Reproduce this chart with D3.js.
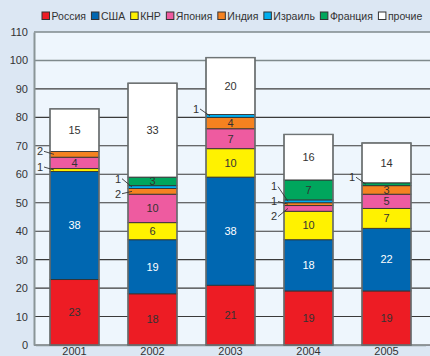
<!DOCTYPE html>
<html><head><meta charset="utf-8">
<script src="https://cdn.jsdelivr.net/npm/d3@7"></script>
<style>
html,body{margin:0;padding:0;background:#dce7f3;}
svg{display:block;font-family:"Liberation Sans",Arial,sans-serif;}
</style></head>
<body><svg id="c" width="430" height="356"></svg>
<script>
const years = ["2001","2002","2003","2004","2005"];
const seriesNames = ["Россия","США","КНР","Япония","Индия","Израиль","Франция","прочие"];
const seriesColors = ["#ed1c24","#0067b1","#fff200","#ee5ba0","#f58220","#00aeef","#00a65d","#ffffff"];
const russia = [23,18,21,19,19];
const usa    = [38,19,38,18,22];
const china  = [1,6,10,10,7];
const japan  = [4,10,7,2,5];
const india  = [2,2,4,1,3];
const israel = [0,1,1,1,0];
const france = [0,3,0,7,1];
const others = [15,33,20,16,14];
const yTicks = [0,10,20,30,40,50,60,70,80,90,100,110];

const seriesValues = [russia,usa,china,japan,india,israel,france,others];
const table = years.map((y,i)=>{const o={year:y}; seriesNames.forEach((s,k)=>o[s]=seriesValues[k][i]); return o;});

const svg = d3.select("#c");
const W=430,H=356;
const m={left:34,top:32,right:0,bottom:11};
const x = d3.scaleBand().domain(years).range([35.5,425.5]).paddingInner(0.372).paddingOuter(0.186);
const y = d3.scaleLinear().domain([0,110]).range([345,32]);

// plot area background
svg.append("rect").attr("x",m.left).attr("y",y(110)).attr("width",W-m.left).attr("height",y(0)-y(110)).attr("fill","#eef6fd");

// gridlines
svg.append("g").selectAll("line").data(yTicks).join("line")
  .attr("x1",m.left).attr("x2",W).attr("y1",d=>y(d)).attr("y2",d=>y(d))
  .attr("stroke",d=>d>=100?"#7f8a8c":"#3a3a3a").attr("stroke-width",d=>d>=100?1.6:1.1);

// y axis
const ya = svg.append("g").attr("transform",`translate(${m.left},0)`)
  .call(d3.axisLeft(y).tickValues(yTicks).tickSize(0).tickPadding(6));
ya.select(".domain").attr("stroke","#8a9597").attr("stroke-width",2);
ya.selectAll("text").attr("font-size",11).attr("fill","#333").attr("font-family","Liberation Sans, Arial, sans-serif");

// x axis labels
const xa = svg.append("g").attr("transform",`translate(0,${y(0)})`)
  .call(d3.axisBottom(x).tickSize(0).tickPadding(2));
xa.select(".domain").attr("stroke","#8a9597").attr("stroke-width",1.5);
xa.selectAll("text").attr("font-size",11).attr("fill","#333").attr("font-family","Liberation Sans, Arial, sans-serif");

const stack = d3.stack().keys(seriesNames)(table);

const bars = svg.append("g");
stack.forEach((layer,k)=>{
  bars.append("g").selectAll("rect").data(layer.filter(d=>d[1]>d[0])).join("rect")
    .attr("x",d=>x(d.data.year)).attr("width",x.bandwidth())
    .attr("y",d=>y(d[1])).attr("height",d=>y(d[0])-y(d[1]))
    .attr("fill",seriesColors[k]).attr("stroke","#333").attr("stroke-width",0.9);
});
// bar outline
svg.append("g").selectAll("rect").data(table).join("rect")
  .attr("x",d=>x(d.year)).attr("width",x.bandwidth())
  .attr("y",d=>y(d3.sum(seriesNames,s=>d[s]))).attr("height",d=>y(0)-y(d3.sum(seriesNames,s=>d[s])))
  .attr("fill","none").attr("stroke","#6f7475").attr("stroke-width",1.4);

// inner labels
stack.forEach((layer,k)=>{
  svg.append("g").selectAll("text").data(layer.filter(d=>d[1]-d[0]>=3)).join("text")
    .attr("x",d=>x(d.data.year)+x.bandwidth()/2).attr("y",d=>(y(d[0])+y(d[1]))/2)
    .attr("dy","0.35em").attr("text-anchor","middle").attr("font-size",11)
    .attr("fill",k===1?"#ffffff":"#333").text(d=>d[1]-d[0]);
});

// callouts for small segments
const cg = svg.append("g");
years.forEach((yr,i)=>{
  const small=[];
  stack.forEach((layer,k)=>{const d=layer[i]; const v=d[1]-d[0]; if(v>0&&v<3) small.push({v,cy:(y(d[0])+y(d[1]))/2});});
  if(!small.length) return;
  small.sort((a,b)=>a.cy-b.cy);
  const n=small.length, gap=15;
  let pos=small.map(s=>s.cy);
  for(let it=0;it<50;it++){
    for(let j=1;j<n;j++){ if(pos[j]-pos[j-1]<gap){const c=(pos[j]+pos[j-1])/2; pos[j-1]=c-gap/2; pos[j]=c+gap/2;} }
  }
  const shift = n===1?-7:-3;
  pos=pos.map(p=>p+shift);
  const bx=x(yr);
  small.forEach((s,j)=>{
    cg.append("text").attr("x",bx-7).attr("y",pos[j]).attr("dy","0.35em").attr("text-anchor","end")
      .attr("font-size",11).attr("fill","#333").text(s.v);
    cg.append("line").attr("x1",bx-6).attr("y1",pos[j]).attr("x2",bx+4).attr("y2",s.cy)
      .attr("stroke","#333").attr("stroke-width",0.9);
  });
});

// legend
const lg = svg.append("g").attr("transform","translate(42,16)");
let lx=0;
seriesNames.forEach((s,k)=>{
  const g=lg.append("g").attr("transform",`translate(${lx},0)`);
  g.append("rect").attr("x",0).attr("y",-4).attr("width",7.5).attr("height",7.5)
    .attr("fill",seriesColors[k]).attr("stroke","#333").attr("stroke-width",1);
  const t=g.append("text").attr("x",9.5).attr("y",0).attr("dy","0.35em").attr("font-size",10.5)
    .attr("fill","#333").text(s);
  lx += 9.5 + t.node().getComputedTextLength() + 5.5;
});
</script></body></html>
